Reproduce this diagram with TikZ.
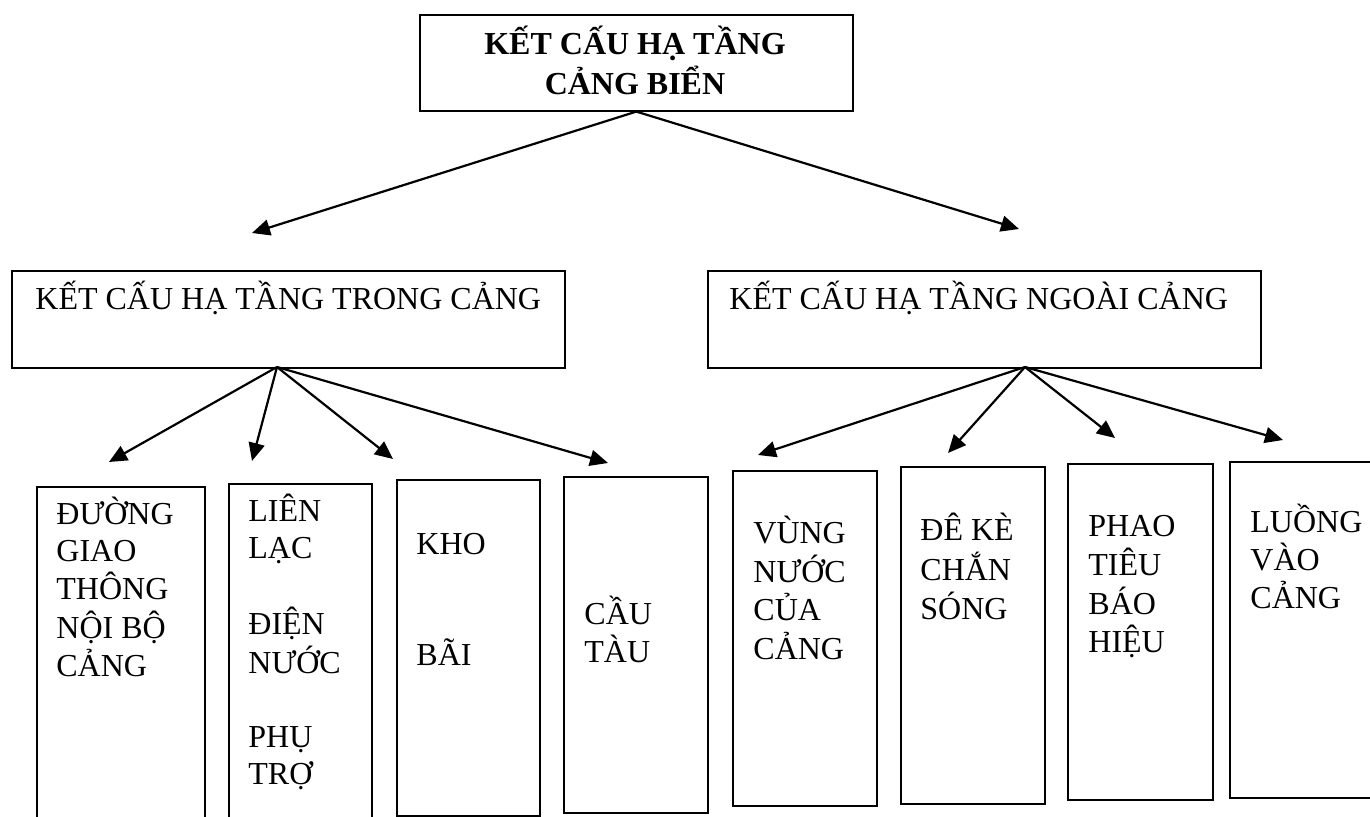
\documentclass[tikz,border=0pt]{standalone}
\usepackage{fontspec}
\setmainfont{Liberation Serif}
\usetikzlibrary{arrows.meta}

\newcommand{\leftlines}[1]{\begin{tabular}[t]{@{}l@{}}#1\end{tabular}}
\newcommand{\midlines}[1]{\begin{tabular}[t]{@{}c@{}}#1\end{tabular}}

\tikzset{
    box/.style={draw, line width=0.8pt, inner sep=0pt, anchor=north west},
    boxtext/.style={anchor=base west, inner sep=0pt,
        font=\fontsize{16}{18.5}\selectfont},
    link/.style={line width=1.1pt, -{Triangle[length=9pt,width=8pt]}},
}

\begin{document}
\begin{tikzpicture}[x=0.5pt,y=-0.5pt]
        \useasboundingbox (0,0) rectangle (1370,817);

        % Top box
        \node [box,
            minimum width=216.5pt,
            minimum height=48pt,
        ] (hatang) at (419,14) {};
        \node [anchor=base, inner sep=0pt,
            font=\fontsize{16}{18.5}\selectfont\bfseries,
        ] (hatangtext) at (635,55) {\midlines{KẾT CẤU HẠ TẦNG\\CẢNG BIỂN}};

        % Second level
        \node [box,
            minimum width=276.5pt,
            minimum height=48.5pt,
        ] (trong) at (11,270) {};
        \node [boxtext] (trongtext) at (35,310) {KẾT CẤU HẠ TẦNG TRONG CẢNG};

        \node [box,
            minimum width=276.5pt,
            minimum height=48.5pt,
        ] (ngoai) at (707,270) {};
        \node [boxtext] (ngoaitext) at (729,310) {KẾT CẤU HẠ TẦNG NGOÀI CẢNG};

        % Inside the port
        \node [box, minimum width=84pt, minimum height=172pt] (duong) at (36,486) {};
        \node [boxtext] (duongtext) at (56,524) {\leftlines{ĐƯỜNG\\GIAO\\THÔNG\\NỘI BỘ\\CẢNG}};

        \node [box, minimum width=71.5pt, minimum height=173.5pt] (lienlac) at (228,483) {};
        \node [boxtext] (lienlactext) at (248,522) {\leftlines{LIÊN\\LẠC\\\\ĐIỆN\\NƯỚC\\\\PHỤ\\TRỢ}};

        \node [box, minimum width=71.5pt, minimum height=168pt] (khobai) at (396,479) {};
        \node [boxtext] (khobaitext) at (416,554) {\leftlines{KHO\\\\\\BÃI}};

        \node [box, minimum width=72pt, minimum height=168pt] (cautau) at (563,476) {};
        \node [boxtext] (cautautext) at (584,624) {\leftlines{CẦU\\TÀU}};

        % Outside the port
        \node [box, minimum width=72pt, minimum height=167.5pt] (vungnuoc) at (732,470) {};
        \node [boxtext] (vungnuoctext) at (753,544) {\leftlines{VÙNG\\NƯỚC\\CỦA\\CẢNG}};

        \node [box, minimum width=72pt, minimum height=168.5pt] (dechan) at (900,466) {};
        \node [boxtext] (dechantext) at (920,541) {\leftlines{ĐÊ KÈ\\CHẮN\\SÓNG}};

        \node [box, minimum width=72.5pt, minimum height=168pt] (phaotieu) at (1067,463) {};
        \node [boxtext] (phaotieutext) at (1088,537) {\leftlines{PHAO\\TIÊU\\BÁO\\HIỆU}};

        \node [box, minimum width=73pt, minimum height=168pt] (luong) at (1229,461) {};
        \node [boxtext] (luongtext) at (1250,532) {\leftlines{LUỒNG\\VÀO\\CẢNG}};

        % Arrow ends
        \coordinate (trongfoot) at (277,367);
        \coordinate (ngoaifoot) at (1025,367);
        \coordinate (totrong) at (252,233);
        \coordinate (tongoai) at (1019,229);
        \coordinate (toduong) at (109,462);
        \coordinate (tolienlac) at (252,461);
        \coordinate (tokhobai) at (393,459);
        \coordinate (tocautau) at (608,463);
        \coordinate (tovungnuoc) at (758,455);
        \coordinate (todechan) at (948,453);
        \coordinate (tophaotieu) at (1115,438);
        \coordinate (toluong) at (1283,440);

        \draw[link] (hatang.south)--(totrong);
        \draw[link] (hatang.south)--(tongoai);
        \foreach \target in {toduong,tolienlac,tokhobai,tocautau}
            \draw[link] (trongfoot)--(\target);
        \foreach \target in {tovungnuoc,todechan,tophaotieu,toluong}
            \draw[link] (ngoaifoot)--(\target);
\end{tikzpicture}
\end{document}
